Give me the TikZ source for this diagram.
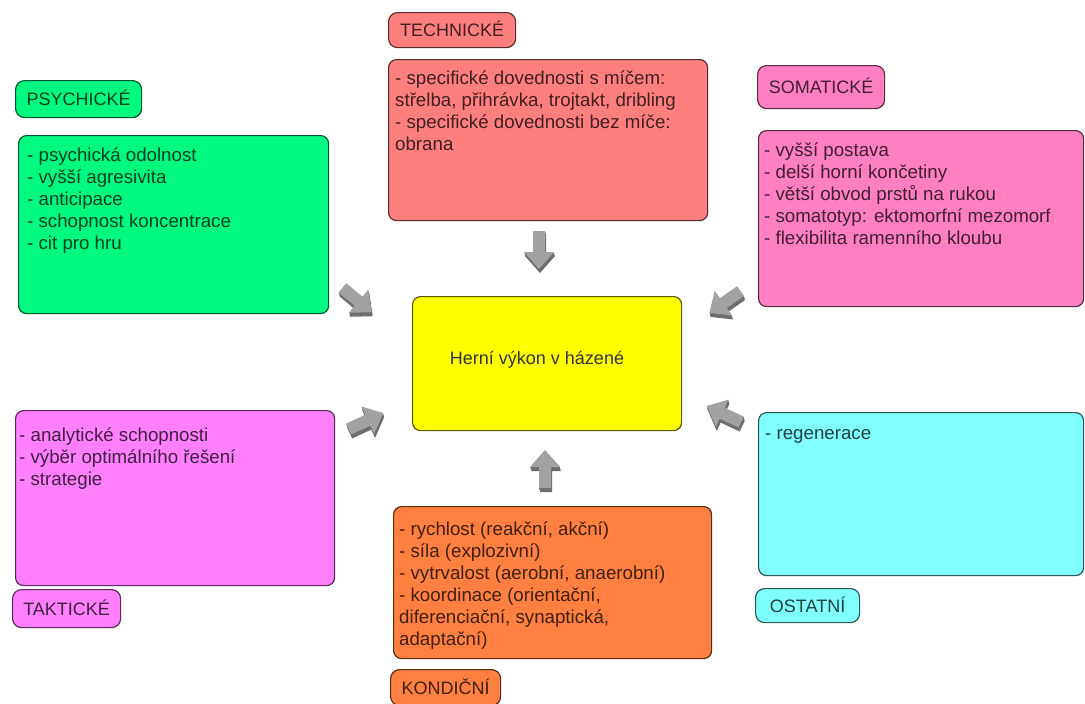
\documentclass[tikz,border=0pt]{standalone}
\usepackage{fontspec}
\setmainfont{Liberation Sans}
\definecolor{cTech}{HTML}{FF7F7F}
\definecolor{cPsy}{HTML}{00FA80}
\definecolor{cSom}{HTML}{FF7FC0}
\definecolor{cTak}{HTML}{FF7FFF}
\definecolor{cOst}{HTML}{7FFFFF}
\definecolor{cKon}{HTML}{FF8040}
\definecolor{cCen}{HTML}{FFFF00}
\definecolor{arrlight}{HTML}{A2A2A2}
\definecolor{arrdark}{HTML}{6E6E6E}
\tikzset{
  box/.style={draw=#1!35!black, fill=#1, line width=1.2pt, rounded corners=8pt,
    anchor=north west, inner sep=0pt},
  lbl/.style={draw=#1!35!black, fill=#1, line width=1.2pt, rounded corners=9pt,
    anchor=north west, inner sep=0pt, text=#1!25!black,
    font=\fontsize{18}{22}\selectfont, text height=13pt, text depth=0pt},
  txt/.style={text=#1!25!black, anchor=north west, align=left, inner sep=0pt,
    font=\fontsize{18.7}{22}\selectfont, execute at begin node={\rule{0pt}{16pt}}},
}
\newcommand\blockarr[3]{%
  \foreach \k in {1,...,5}{%
    \begin{scope}[shift={(#1+\k*0.2,#2+\k*0.8)},rotate=#3]
      \fill[arrdark] (-19,-6) -- (2,-6) -- (2,-15) -- (19,0) -- (2,15) -- (2,6) -- (-19,6) -- cycle;
    \end{scope}}
  \begin{scope}[shift={(#1,#2)},rotate=#3]
    \fill[arrlight] (-19,-6) -- (2,-6) -- (2,-15) -- (19,0) -- (2,15) -- (2,6) -- (-19,6) -- cycle;
  \end{scope}}
\begin{document}
\begin{tikzpicture}[x=1pt,y=-1pt]
\useasboundingbox (0,0) rectangle (1085,704);
\fill[white] (0,0) rectangle (1085,704);

% boxes
\node[box=cTech, minimum width=319pt, minimum height=161pt] (tech) at (388,59) {};
\node[box=cPsy,  minimum width=310pt, minimum height=178pt] (psy)  at (18,135) {};
\node[box=cSom,  minimum width=325pt, minimum height=176pt] (som)  at (758,130) {};
\node[box=cTak,  minimum width=319pt, minimum height=175pt] (tak)  at (15,410) {};
\node[box=cOst,  minimum width=325pt, minimum height=163pt] (ost)  at (758,412) {};
\node[box=cKon,  minimum width=318pt, minimum height=152pt] (kon)  at (393,506) {};
\node[box=cCen,  minimum width=269pt, minimum height=134pt] (cen)  at (412,296) {};

% labels
\node[lbl=cTech, minimum width=127pt, minimum height=35pt] (techL) at (388,12)  {TECHNICKÉ};
\node[lbl=cPsy,  minimum width=126pt, minimum height=37pt] (psyL)  at (15,80)   {PSYCHICKÉ};
\node[lbl=cSom,  minimum width=127pt, minimum height=43pt] (somL)  at (757,65)  {SOMATICKÉ};
\node[lbl=cTak,  minimum width=108pt, minimum height=38pt] (takL)  at (12,589)  {TAKTICKÉ};
\node[lbl=cOst,  minimum width=104pt, minimum height=34pt] (ostL)  at (755,588) {OSTATNÍ};
\node[lbl=cKon,  minimum width=110pt, minimum height=36pt] (konL)  at (390,669) {KONDIČNÍ};

% texts
\node[txt=cTech] (techT) at ([shift={(7,12)}]tech.north west)
  {- specifické dovednosti s míčem:\\střelba, přihrávka, trojtakt, dribling\\- specifické dovednosti bez míče:\\obrana};
\node[txt=cPsy] (psyT) at ([shift={(9,13)}]psy.north west)
  {- psychická odolnost\\- vyšší agresivita\\- anticipace\\- schopnost koncentrace\\- cit pro hru};
\node[txt=cSom] (somT) at ([shift={(6,13)}]som.north west)
  {- vyšší postava\\- delší horní končetiny\\- větší obvod prstů na rukou\\- somatotyp: ektomorfní mezomorf\\- flexibilita ramenního kloubu};
\node[txt=cTak] (takT) at ([shift={(4,18)}]tak.north west)
  {- analytické schopnosti\\- výběr optimálního řešení\\- strategie};
\node[txt=cOst] (ostT) at ([shift={(7,11)}]ost.north west)
  {- regenerace};
\node[txt=cKon] (konT) at ([shift={(6,16)}]kon.north west)
  {- rychlost (reakční, akční)\\- síla (explozivní)\\- vytrvalost (aerobní, anaerobní)\\- koordinace (orientační,\\diferenciační, synaptická,\\adaptační)};
\node[text=black!80, font=\fontsize{18}{22}\selectfont, inner sep=0pt] (cenT) at (537,360) {Herní výkon v házené};

% block arrows
\blockarr{539}{250}{-90}
\blockarr{545}{469}{90}
\blockarr{357}{300}{-40}
\blockarr{725}{302}{-145}
\blockarr{366}{421}{25}
\blockarr{724}{414}{155}
\end{tikzpicture}
\end{document}
